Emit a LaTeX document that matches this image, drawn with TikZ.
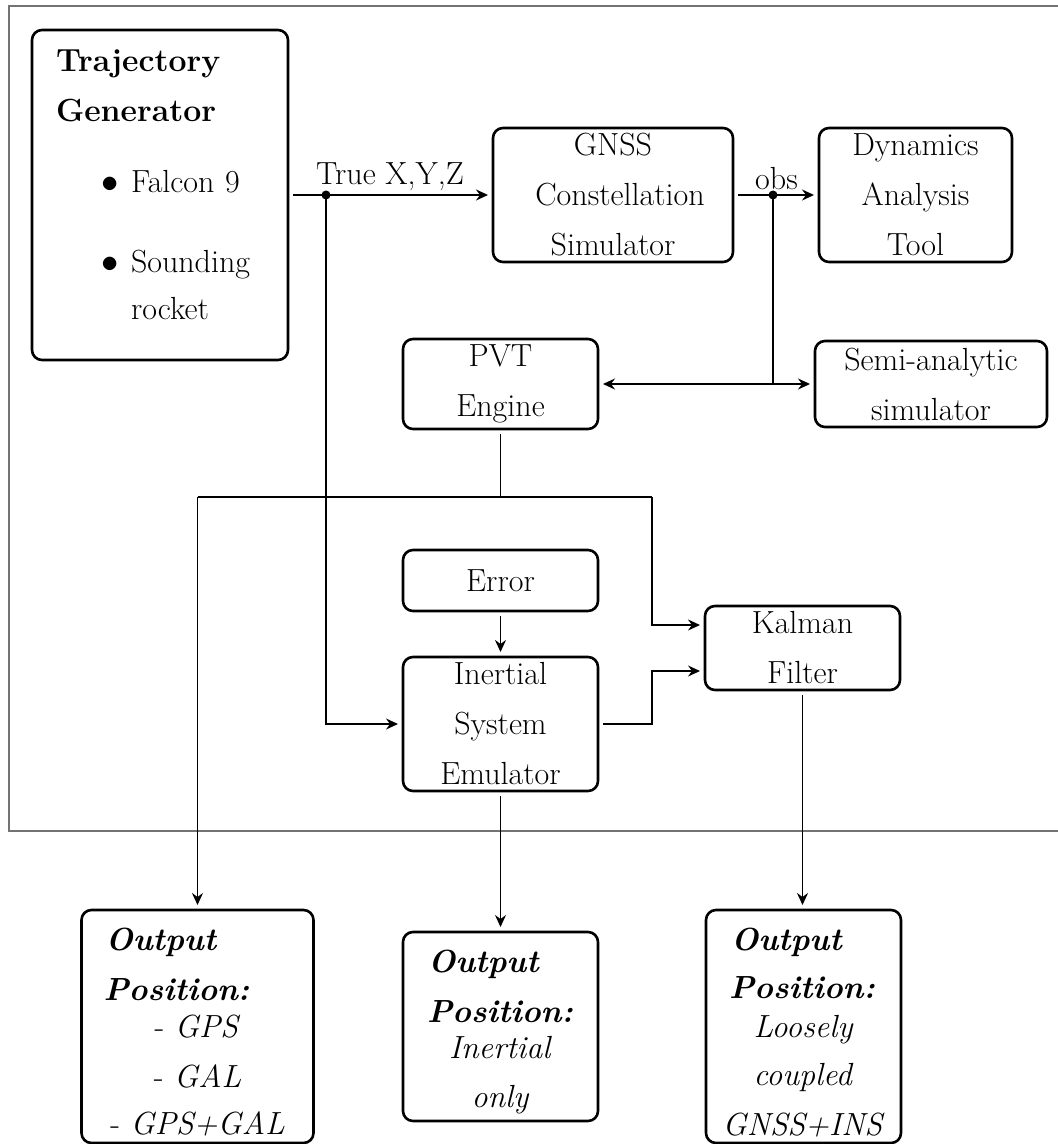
\documentclass[tikz,border=0pt]{standalone}
\usepackage{fontspec}
\usetikzlibrary{arrows.meta,calc}
\begin{document}
\begin{tikzpicture}[x=0.5pt,y=-0.5pt,
  box/.style={draw, line width=1.3pt, rounded corners=5pt, inner sep=0pt, outer sep=2.5pt, align=center, font=\fontsize{16}{25}\selectfont},
  arr/.style={-{Stealth[length=6pt,width=5.5pt,inset=2pt]}, line width=0.9pt},
  arrthin/.style={-{Stealth[length=6pt,width=5.5pt,inset=2pt]}, line width=0.6pt},
  thinl/.style={line width=0.55pt},
  lbl/.style={font=\fontsize{16}{25}\selectfont, inner sep=0pt, anchor=base},
  dot/.style={circle, fill, inner sep=0pt, minimum size=4.5pt}
]
\useasboundingbox (0,0) rectangle (1057,1144);
% frame
\draw[line width=0.75pt, black!55] (1070,6) -- (9,6) -- (9,831) -- (1070,831);

% nodes
\node[box, minimum width=128pt, minimum height=165pt, text width=104pt, align=left] (traj) at (160,195)
 {\textbf{Trajectory}\\
  \textbf{Generator}\\[10.5pt]
  \hspace*{22.5pt}\makebox[15pt][l]{$\bullet$}Falcon 9\\[15pt]
  \hspace*{22.5pt}\makebox[15pt][l]{$\bullet$}Sounding\\[-1.5pt]
  \hspace*{37.5pt}rocket\rule[-10pt]{0pt}{0pt}};
\node[box, minimum width=120pt, minimum height=67pt] (gnss) at (613,195) {GNSS\\\hspace*{7pt}Constellation\\Simulator};
\node[box, minimum width=96.5pt, minimum height=67pt] (dyn) at (915.5,195) {Dynamics\\Analysis\\Tool};
\node[box, minimum width=97.5pt, minimum height=45pt] (pvt) at (500.5,384) {PVT\\Engine};
\node[box, minimum width=116pt, minimum height=43pt] (semi) at (931,384) {Semi-analytic\\simulator};
\node[box, minimum width=97.5pt, minimum height=30.5pt] (err) at (500.5,580.5) {Error};
\node[box, minimum width=97.5pt, minimum height=67pt] (ins) at (500.5,724) {Inertial\\System\\Emulator};
\node[box, minimum width=97.5pt, minimum height=42pt] (kal) at (802.5,648) {Kalman\\Filter};

\node[box, minimum width=116pt, minimum height=116.5pt, text width=116pt] (out1) at (197.5,1026.5)
 {\makebox[116pt][l]{\hspace{12pt}\rule{0pt}{17pt}\textbf{\textit{Output}}}\\
  \makebox[116pt][l]{\hspace{11pt}\textbf{\textit{Position:}}}\\[-6.5pt]
  - \textit{GPS}\\
  - \textit{GAL}\\[-1.5pt]
  - \textit{GPS+GAL}};
\node[box, minimum width=97.5pt, minimum height=94.5pt, text width=97.5pt] (out2) at (500.5,1026.5)
 {\makebox[97.5pt][l]{\hspace{12.5pt}\rule{0pt}{17pt}\textbf{\textit{Output}}}\\
  \makebox[97.5pt][l]{\hspace{12pt}\textbf{\textit{Position:}}}\\[-7pt]
  \textit{Inertial}\\[-0.5pt]
  \textit{only}};
\node[box, minimum width=97.5pt, minimum height=116.5pt, text width=97.5pt] (out3) at (803.5,1026.5)
 {\makebox[97.5pt][l]{\hspace{12.5pt}\rule{0pt}{17pt}\textbf{\textit{Output}}}\\[-1pt]
  \makebox[97.5pt][l]{\hspace{11.5pt}\textbf{\textit{Position:}}}\\[-5.5pt]
  \textit{Loosely}\\[-1pt]
  \textit{coupled}\\
  \textit{GNSS+INS}};

% junction points
\coordinate (j4) at (500.5,497);
\coordinate (k1) at (652,497);
\coordinate (k0) at (197.5,497);

% connectors
\draw[arr] (traj.east) -- (gnss.west);
\node[dot] (j1) at (326,195) {};
\node[lbl] (lxyz) at (390,185) {True X,Y,Z};
\draw[arr, line width=0.7pt] (j1.center) |- (ins.west);

\draw[arr] (gnss.east) -- (dyn.west);
\node[dot] (j2) at (773,195) {};
\node[lbl] (lobs) at (776.5,190) {obs};
\coordinate (j3) at (773,384);
\draw[line width=0.9pt] (j2.center) -- (j3);
\draw[arr, {Stealth[length=6pt,width=5.5pt,inset=2pt]}-{Stealth[length=6pt,width=5.5pt,inset=2pt]}] (pvt.east) -- (semi.west);

\draw[thinl] (pvt.south) -- (j4);
\draw[thinl] (k0) -- (k1);
\draw[arr] (k0) -- (out1.north);
\draw[arr] (k1) |- ($(kal.west)+(0,-23)$);

\draw[arr] (err.south) -- (ins.north);
\draw[arrthin] (ins.east) -- (ins.east -| k1) |- ($(kal.west)+(0,23)$);
\draw[arrthin] (ins.south) -- (out2.north);
\draw[arr] (kal.south) -- (kal.south |- out3.north);
\end{tikzpicture}
\end{document}
